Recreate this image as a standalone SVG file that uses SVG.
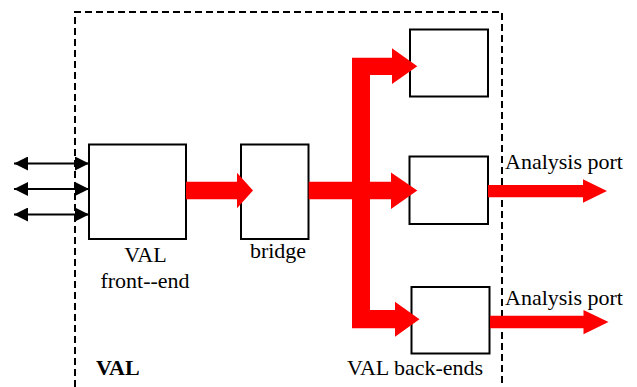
<svg xmlns="http://www.w3.org/2000/svg" width="637" height="387" viewBox="0 0 637 387">
<defs>
<style>
.box{fill:#fff;stroke:#000;stroke-width:2}
.red{fill:#ff0000;stroke:none}
.bl{stroke:#000;stroke-width:2;fill:none}
</style>
<marker id="ah" viewBox="0 0 14 14" refX="14" refY="7" markerWidth="14" markerHeight="14" markerUnits="userSpaceOnUse" orient="auto-start-reverse">
<path d="M0,0 L14,7 L0,14 Z" fill="#000"/>
</marker>
</defs>
<rect width="637" height="387" fill="#fff"/>
<g font-family="Liberation Serif, DejaVu Serif, Times New Roman, serif" font-size="22" fill="#000">
<g id="val-boundary">
<path d="M75,387 V12 H502 V387" fill="none" stroke="#000" stroke-width="2" stroke-dasharray="7 4"/>
<text x="96" y="375" font-weight="bold">VAL</text>
</g>
<g id="frontend">
<rect class="box" x="89" y="144.5" width="97" height="94.5"/>
<text x="145.5" y="262" text-anchor="middle">VAL</text>
<text x="145" y="288" text-anchor="middle">front--end</text>
</g>
<g id="bridge">
<rect class="box" x="241" y="144.5" width="67.5" height="94.5"/>
<text x="278" y="258" text-anchor="middle">bridge</text>
</g>
<g id="backend1">
<rect class="box" x="410" y="29.5" width="78" height="67"/>
</g>
<g id="backend2">
<rect class="box" x="409.5" y="156.5" width="78.5" height="67.5"/>
</g>
<g id="backend3">
<rect class="box" x="411.5" y="287" width="78" height="66.5"/>
<text x="415" y="375" text-anchor="middle">VAL back-ends</text>
</g>
<g id="connectors">
<line class="bl" x1="14" y1="163.5" x2="89" y2="163.5" marker-start="url(#ah)" marker-end="url(#ah)"/>
<line class="bl" x1="14" y1="189" x2="89" y2="189" marker-start="url(#ah)" marker-end="url(#ah)"/>
<line class="bl" x1="14" y1="214.5" x2="89" y2="214.5" marker-start="url(#ah)" marker-end="url(#ah)"/>
<polygon class="red" points="186,181.7 237,181.7 237,172.7 253,190.5 237,208.3 237,199.3 186,199.3"/>
<polygon class="red" points="308.7,181.7 352,181.7 352,57.7 392,57.7 392,48.3 417.3,66.2 392,84 392,75 370,75 370,181.7 391,181.7 391,172.5 417.3,190.5 391,209 391,199.3 370,199.3 370,310 395,310 395,301.7 419.5,319.2 395,336.7 395,328.3 352,328.3 352,199.3 308.7,199.3"/>
<polygon class="red" points="488,185 583,185 583,179.3 607,191 583,202.7 583,197.3 488,197.3"/>
<polygon class="red" points="490,315.7 583.5,315.7 583.5,310 608.5,322 583.5,334.3 583.5,328.3 490,328.3"/>
<text x="505" y="169">Analysis port</text>
<text x="505" y="305">Analysis port</text>
</g>
</g>
</svg>
